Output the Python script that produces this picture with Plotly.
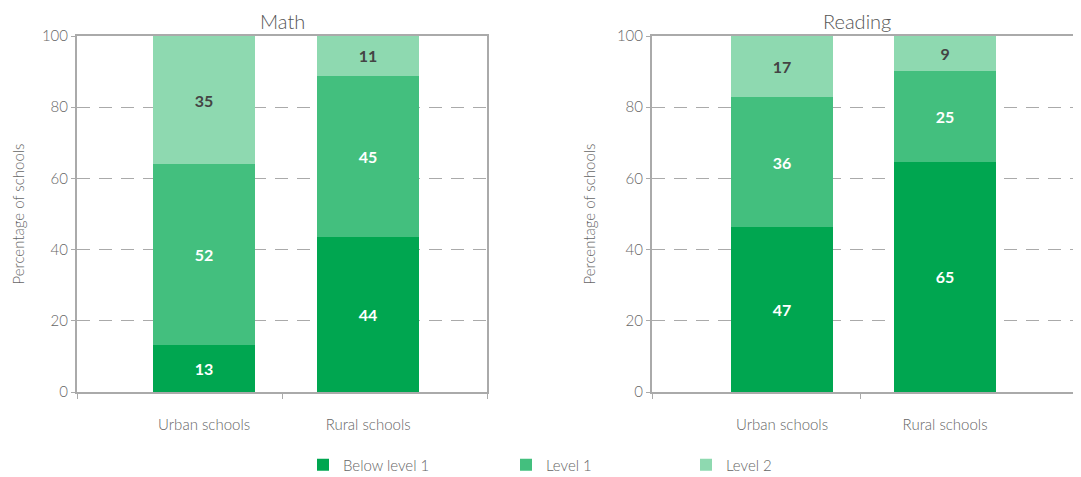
import plotly.graph_objects as go

categories = ["Urban schools", "Rural schools"]
series_names = ["Below level 1", "Level 1", "Level 2"]
# segment heights
math_values = {
    "Below level 1": [13.2, 43.6],
    "Level 1": [50.8, 45.2],
    "Level 2": [36.0, 11.2],
}
math_labels = {
    "Below level 1": ["13", "44"],
    "Level 1": ["52", "45"],
    "Level 2": ["35", "11"],
}
reading_values = {
    "Below level 1": [46.3, 64.7],
    "Level 1": [36.5, 25.5],
    "Level 2": [17.2, 9.8],
}
reading_labels = {
    "Below level 1": ["47", "65"],
    "Level 1": ["36", "25"],
    "Level 2": ["17", "9"],
}
panel_titles = ["Math", "Reading"]
y_ticks = [0, 20, 40, 60, 80, 100]

colors = {"Below level 1": "#00A650", "Level 1": "#43BF7E", "Level 2": "#8ED9B0"}
label_colors = {"Below level 1": "#ffffff", "Level 1": "#ffffff", "Level 2": "#444444"}

FONT = "Lato"
W, H = 1081, 477
OX, OY = 8, 8  # page offset of the plot div

def px(x):
    return (x - OX) / W

def py(y):
    return 1 - (y - OY) / H

fig = go.Figure()
xpos = [0, 1]
legend_ids = ["legend", "legend2", "legend3"]

panels = [
    (math_values, math_labels, "x", "y", 0.62),
    (reading_values, reading_labels, "x2", "y2", 0.63),
]
for i, (vals, labs, xa, ya, bw) in enumerate(panels):
    for j, name in enumerate(series_names):
        fig.add_trace(go.Bar(
            x=xpos, y=vals[name], name=name, width=bw,
            marker=dict(color=colors[name], line=dict(width=0)),
            text=labs[name], textposition="inside",
            insidetextanchor="middle",
            textfont=dict(family=FONT, size=16, color=label_colors[name], weight="bold"),
            xaxis=xa, yaxis=ya, showlegend=(i == 0), legend=legend_ids[j],
            hoverinfo="skip",
        ))

math_dom = [px(77), px(487)]
read_dom = [px(652), 1.0]
y_dom = [py(392), py(36)]

math_range = [-0.775, 1.725]
read_range = [-0.798, 1.883]

TXT = "#666666"

axis_common = dict(
    showline=True, linecolor="#aaaaaa", linewidth=2,
    tickfont=dict(family=FONT, size=15, color=TXT, weight=300),
)

def xaxis(dom, rng, mid, mirror, anchor):
    return dict(
        domain=dom, range=rng, tickvals=xpos, ticktext=categories,
        ticks="", showgrid=False, zeroline=False, mirror=mirror, anchor=anchor,
        ticklabelstandoff=18,
        minor=dict(tickvals=[rng[0], mid, rng[1]], ticks="outside", ticklen=5,
                   tickcolor="#aaaaaa", tickwidth=1, showgrid=False),
        fixedrange=True, **axis_common,
    )

def yaxis(anchor, mirror, standoff):
    return dict(
        domain=y_dom, range=[0, 100], tickvals=y_ticks, ticks="outside", ticklen=4,
        tickcolor="#aaaaaa", showgrid=True, gridcolor="#aaaaaa", griddash="13px,9px",
        gridwidth=1, zeroline=False, anchor=anchor, mirror=mirror,
        title=dict(text="Percentage of schools", font=dict(family=FONT, size=15, color=TXT, weight=300), standoff=standoff),
        fixedrange=True, **axis_common,
    )

fig.update_layout(
    width=W, height=H,
    margin=dict(l=0, r=0, t=0, b=0, autoexpand=False),
    paper_bgcolor="white", plot_bgcolor="white",
    barmode="stack",
    xaxis=xaxis(math_dom, math_range, 0.475, True, "y"),
    yaxis=yaxis("x", True, 14),
    xaxis2=xaxis(read_dom, read_range, 0.479, True, "y2"),
    yaxis2=yaxis("x2", False, 18),
    showlegend=True,
    font=dict(family=FONT, color="#555555"),
)

legend_x = [303, 506, 686]
for lid, lx in zip(legend_ids, legend_x):
    fig.layout[lid] = dict(
        x=px(lx), y=py(465), xanchor="left", yanchor="middle",
        orientation="h", font=dict(family=FONT, size=15, color=TXT, weight=300),
        bgcolor="rgba(0,0,0,0)", itemwidth=30,
    )

title_centers = [282, 857]
for t, cx in zip(panel_titles, title_centers):
    fig.add_annotation(
        text=t, x=px(cx), y=1.0, xref="paper", yref="paper",
        showarrow=False, xanchor="center", yanchor="top", borderpad=0,
        font=dict(family=FONT, size=20, color="#555555", weight=300),
    )

fig.write_html("out.html")
